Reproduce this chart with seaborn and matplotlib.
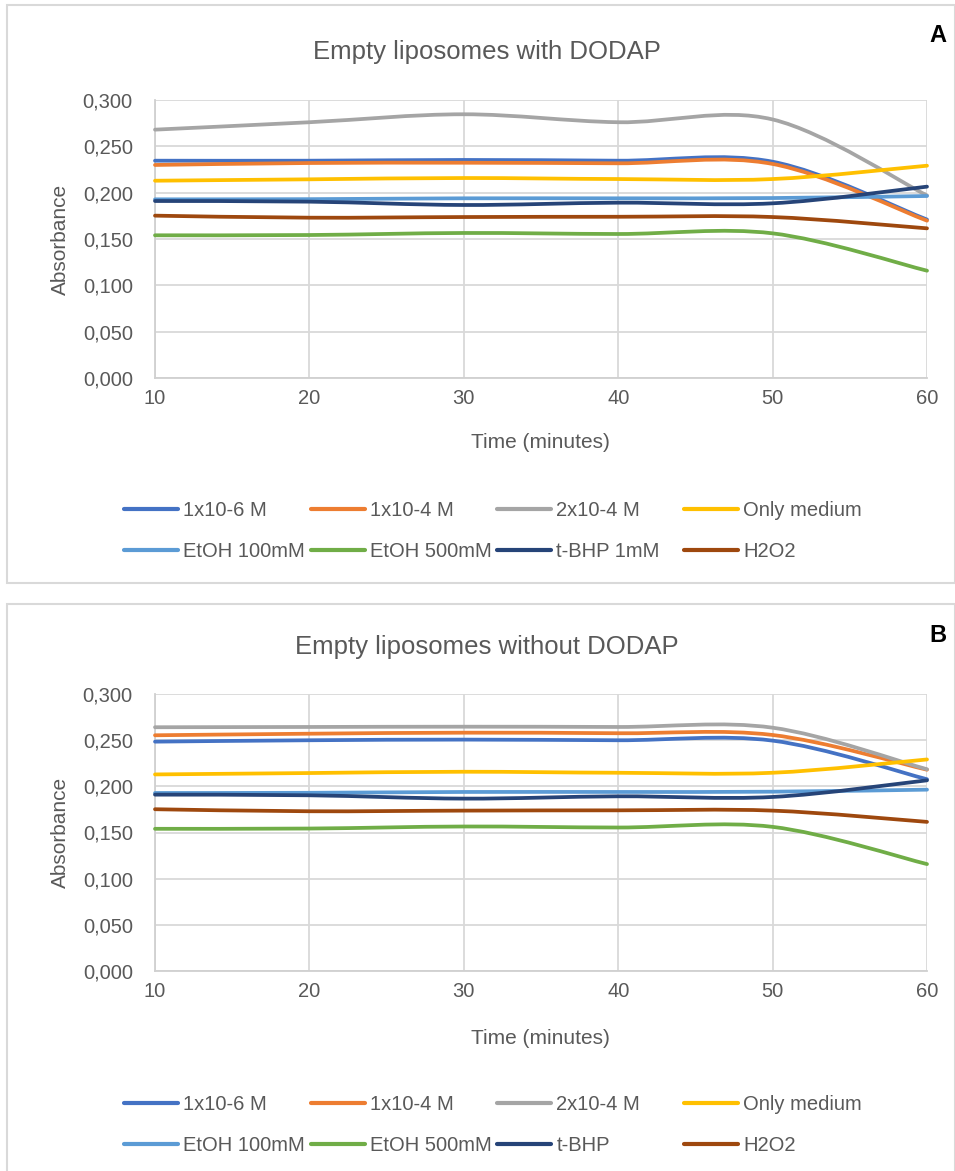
import numpy as np
import matplotlib
matplotlib.use('Agg')
import matplotlib.pyplot as plt
from matplotlib.path import Path
from matplotlib.patches import PathPatch, Rectangle
from matplotlib.lines import Line2D
import seaborn as sns

# time points (minutes)
time_min = [10, 20, 30, 40, 50, 60]

labels_a = ['1x10-6 M', '1x10-4 M', '2x10-4 M', 'Only medium',
            'EtOH 100mM', 'EtOH 500mM', 't-BHP 1mM', 'H2O2']
labels_b = ['1x10-6 M', '1x10-4 M', '2x10-4 M', 'Only medium',
            'EtOH 100mM', 'EtOH 500mM', 't-BHP', 'H2O2']
colors = ['#4472C4', '#ED7D31', '#A5A5A5', '#FFC000',
          '#5B9BD5', '#70AD47', '#264478', '#9E480E']

# panel A - with DODAP
a_1e6 = [0.2345, 0.2345, 0.2353, 0.2345, 0.2334, 0.1710]
a_1e4 = [0.2299, 0.2320, 0.2323, 0.2317, 0.2310, 0.1698]
a_2e4 = [0.2680, 0.2760, 0.2846, 0.2760, 0.2790, 0.1970]

# panel B - without DODAP
b_1e6 = [0.2484, 0.2499, 0.2506, 0.2499, 0.2495, 0.2077]
b_1e4 = [0.2553, 0.2570, 0.2581, 0.2575, 0.2556, 0.2180]
b_2e4 = [0.2640, 0.2643, 0.2646, 0.2643, 0.2635, 0.2185]

# controls (same in both panels)
only_medium = [0.2129, 0.2144, 0.2158, 0.2147, 0.2147, 0.2291]
etoh_100 = [0.1928, 0.1930, 0.1939, 0.1939, 0.1942, 0.1964]
etoh_500 = [0.1540, 0.1543, 0.1565, 0.1554, 0.1561, 0.1158]
tbhp = [0.1910, 0.1903, 0.1867, 0.1892, 0.1885, 0.2065]
h2o2 = [0.1752, 0.1730, 0.1737, 0.1740, 0.1737, 0.1615]

y_ticks = [0.0, 0.05, 0.10, 0.15, 0.20, 0.25, 0.30]
y_tick_labels = ['0,000', '0,050', '0,100', '0,150', '0,200', '0,250', '0,300']
x_ticks = [10, 20, 30, 40, 50, 60]

W, H = 955, 1171
txt = '#595959'

sns.set_theme(style='white')
plt.rcParams['font.family'] = ['Liberation Sans', 'DejaVu Sans']


def fx(px):
    return px / W


def fy(py):
    return 1 - py / H


def smooth_path(x, y):
    # Excel-like smoothed line (Catmull-Rom style bezier through the points)
    pts = np.column_stack([x, y]).astype(float)
    n = len(pts)
    verts = [pts[0]]
    codes = [Path.MOVETO]
    for i in range(n - 1):
        p_prev = pts[max(i - 1, 0)]
        p_next = pts[min(i + 2, n - 1)]
        c1 = pts[i] + (pts[i + 1] - p_prev) / 6
        c2 = pts[i + 1] - (p_next - pts[i]) / 6
        verts += [c1, c2, pts[i + 1]]
        codes += [Path.CURVE4] * 3
    return Path(verts, codes)


fig = plt.figure(figsize=(W / 100, H / 100), dpi=100)

panels = [
    dict(box=(7, 5, 948, 578), ax_top=100, ax_bot=378, title='Empty liposomes with DODAP',
         title_y=52, letter='A', letter_y=36, xlab_y=443, leg_y=531,
         series=[a_1e6, a_1e4, a_2e4, only_medium, etoh_100, etoh_500, tbhp, h2o2],
         labels=labels_a),
    dict(box=(7, 604, 948, 580), ax_top=694, ax_bot=971, title='Empty liposomes without DODAP',
         title_y=647, letter='B', letter_y=636, xlab_y=1038, leg_y=1125,
         series=[b_1e6, b_1e4, b_2e4, only_medium, etoh_100, etoh_500, tbhp, h2o2],
         labels=labels_b),
]

for p in panels:
    bx, by, bw, bh = p['box']
    fig.patches.append(Rectangle((fx(bx), fy(by + bh)), bw / W, bh / H, transform=fig.transFigure,
                                 fill=False, edgecolor='#D9D9D9', lw=1.5, zorder=0))

    ax = fig.add_axes([fx(155), fy(p['ax_bot']), (927 - 155) / W, (p['ax_bot'] - p['ax_top']) / H])
    for vals, c in zip(p['series'], colors):
        ax.add_patch(PathPatch(smooth_path(time_min, vals), fill=False, edgecolor=c, lw=2.7,
                               capstyle='round', joinstyle='round', clip_on=False, zorder=3))

    ax.set_xlim(10, 60)
    ax.set_ylim(0, 0.3)
    ax.set_xticks(x_ticks)
    ax.set_yticks(y_ticks)
    ax.set_yticklabels(y_tick_labels)
    ax.grid(True, color='#D9D9D9', lw=1.3)
    ax.set_axisbelow(True)
    sns.despine(ax=ax, top=True, right=True)
    for s in ['left', 'bottom']:
        ax.spines[s].set_color('#D0D0D0')
        ax.spines[s].set_linewidth(1.3)
    ax.tick_params(axis='both', length=0, labelsize=14.5, labelcolor=txt)
    ax.tick_params(axis='y', pad=16)
    ax.tick_params(axis='x', pad=8)

    fig.text(fx(487), fy(p['title_y']), p['title'], ha='center', va='center', fontsize=18.5, color=txt)
    fig.text(fx(938), fy(p['letter_y']), p['letter'], ha='center', va='center', fontsize=17,
             fontweight='bold', color='black')
    fig.text(fx(540), fy(p['xlab_y']), 'Time (minutes)', ha='center', va='center', fontsize=15, color=txt)
    fig.text(fx(60), fy((p['ax_top'] + p['ax_bot']) / 2), 'Absorbance', ha='center', va='center',
             rotation=90, fontsize=15, color=txt)

    # legend: 4 columns of 2 entries, evenly spaced like Excel
    for j, x0 in enumerate([124, 311, 497, 684]):
        handles = [Line2D([], [], color=colors[j], lw=3), Line2D([], [], color=colors[j + 4], lw=3)]
        fig.legend(handles, [p['labels'][j], p['labels'][j + 4]], loc='center left',
                   bbox_to_anchor=(fx(x0), fy(p['leg_y'])), frameon=False, borderpad=0,
                   borderaxespad=0, handlelength=2.7, handletextpad=0.25, labelspacing=1.05,
                   fontsize=14.5, labelcolor=txt)

fig.savefig('out.png', dpi=100)
